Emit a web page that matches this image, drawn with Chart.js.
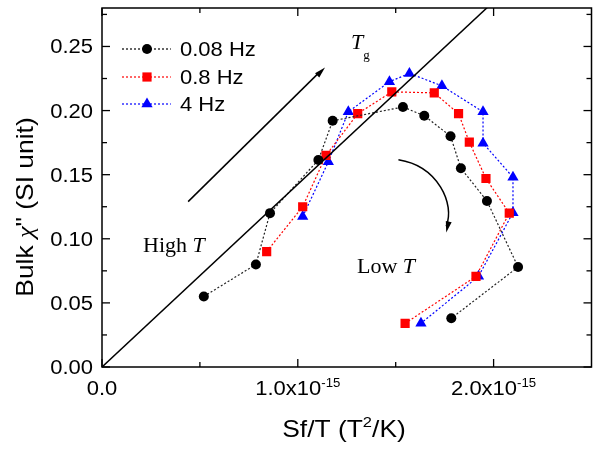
<!DOCTYPE html>
<html>
<head>
<meta charset="utf-8">
<script src="https://cdn.jsdelivr.net/npm/chart.js@4/dist/chart.umd.min.js"></script>
<style>
  body { margin: 0; background: #fff; }
  #wrap { width: 598px; height: 456px; }
</style>
</head>
<body>
<div id="wrap"><canvas id="chart"></canvas></div>
<script>
// Sf/T values are in units of 1e-15 T^2/K
const seriesNames = ["0.08 Hz", "0.8 Hz", "4 Hz"];

const sfT_008 = [0.520, 0.786, 0.858, 1.105, 1.178, 1.537, 1.646, 1.780, 1.833, 1.966, 2.125, 1.784];
const chi_008 = [0.055, 0.080, 0.120, 0.1615, 0.192, 0.2028, 0.196, 0.180, 0.155, 0.1295, 0.078, 0.038];

const sfT_08 = [0.841, 1.025, 1.144, 1.306, 1.480, 1.697, 1.821, 1.876, 1.961, 2.080, 1.910, 1.548];
const chi_08 = [0.090, 0.125, 0.165, 0.1976, 0.2146, 0.2138, 0.1976, 0.1754, 0.147, 0.120, 0.0707, 0.034];

const sfT_4 = [1.025, 1.156, 1.258, 1.468, 1.570, 1.736, 1.946, 1.946, 2.099, 2.099, 1.923, 1.629];
const chi_4 = [0.1173, 0.160, 0.199, 0.2225, 0.229, 0.2193, 0.199, 0.1746, 0.1479, 0.1204, 0.0707, 0.0341];

// straight reference line through the origin
const refLineX = [0, 2.0];
const refLineY = [0, 0.285];

const xTicks = [0, 1, 2];
const xTickLabels = ["0.0", "1.0x10", "2.0x10"];
const xMinor = [0.5, 1.5];
const yTicks = [0, 0.05, 0.10, 0.15, 0.20, 0.25];
const yTickLabels = ["0.00", "0.05", "0.10", "0.15", "0.20", "0.25"];
const yMinor = [0.025, 0.075, 0.125, 0.175, 0.225, 0.275];

function pts(xs, ys) {
  return xs.map((v, i) => ({ x: v, y: ys[i] }));
}

const SANS = '"Liberation Sans", Arial, sans-serif';
const SERIF = '"Liberation Serif", "Times New Roman", serif';
const SX = 1.1;

// draws runs of text with a horizontal stretch, like the original figure
function drawRuns(ctx, runs, x, y, align, sx) {
  sx = sx || 1;
  let w = 0;
  runs.forEach(r => {
    ctx.font = r.font;
    r.w = ctx.measureText(r.t).width;
    w += r.w;
  });
  ctx.save();
  ctx.translate(x, y);
  ctx.scale(sx, 1);
  let cx = align === "center" ? -w / 2 : align === "right" ? -w : 0;
  ctx.textAlign = "left";
  ctx.textBaseline = "alphabetic";
  runs.forEach(r => {
    ctx.font = r.font;
    ctx.fillText(r.t, cx, r.dy || 0);
    cx += r.w;
  });
  ctx.restore();
}

function arrowHead(ctx, x0, y0, x1, y1, len, half) {
  const a = Math.atan2(y1 - y0, x1 - x0);
  ctx.beginPath();
  ctx.moveTo(x1, y1);
  ctx.lineTo(x1 - len * Math.cos(a) + half * Math.sin(a), y1 - len * Math.sin(a) - half * Math.cos(a));
  ctx.lineTo(x1 - len * Math.cos(a) - half * Math.sin(a), y1 - len * Math.sin(a) + half * Math.cos(a));
  ctx.closePath();
  ctx.fill();
}

function marker(ctx, style, x, y, color) {
  ctx.fillStyle = color;
  ctx.beginPath();
  if (style === "circle") {
    ctx.arc(x, y, 5, 0, Math.PI * 2);
  } else if (style === "rect") {
    ctx.rect(x - 4.6, y - 4.6, 9.2, 9.2);
  } else {
    const r = 6.5;
    ctx.moveTo(x, y - r);
    ctx.lineTo(x + r * 0.866, y + r * 0.5);
    ctx.lineTo(x - r * 0.866, y + r * 0.5);
    ctx.closePath();
  }
  ctx.fill();
}

const decorPlugin = {
  id: "decor",
  afterDraw(chart) {
    const ctx = chart.ctx;
    const a = chart.chartArea;
    const xs = chart.scales.x;
    const ys = chart.scales.y;
    ctx.save();
    ctx.strokeStyle = "#000";
    ctx.fillStyle = "#000";
    ctx.lineWidth = 1.5;
    ctx.strokeRect(a.left, a.top, a.right - a.left, a.bottom - a.top);

    function seg(x0, y0, x1, y1) {
      ctx.beginPath();
      ctx.moveTo(x0, y0);
      ctx.lineTo(x1, y1);
      ctx.stroke();
    }

    // inward ticks on all four sides
    ctx.lineWidth = 1.3;
    yTicks.forEach(v => {
      const p = ys.getPixelForValue(v);
      seg(a.left, p, a.left + 8, p);
      seg(a.right, p, a.right - 8, p);
    });
    yMinor.forEach(v => {
      const p = ys.getPixelForValue(v);
      seg(a.left, p, a.left + 5, p);
      seg(a.right, p, a.right - 5, p);
    });
    xTicks.forEach(v => {
      const p = xs.getPixelForValue(v);
      seg(p, a.bottom, p, a.bottom - 8);
      seg(p, a.top, p, a.top + 8);
    });
    xMinor.forEach(v => {
      const p = xs.getPixelForValue(v);
      seg(p, a.bottom, p, a.bottom - 5);
      seg(p, a.top, p, a.top + 5);
    });

    // tick labels
    ctx.fillStyle = "#000";
    yTicks.forEach((v, i) => {
      drawRuns(ctx, [{ t: yTickLabels[i], font: "20px " + SANS }],
        a.left - 9, ys.getPixelForValue(v) + 7, "right", SX);
    });
    xTicks.forEach((v, i) => {
      const runs = [{ t: xTickLabels[i], font: "20px " + SANS }];
      if (v !== 0) runs.push({ t: "-15", font: "12px " + SANS, dy: -8 });
      drawRuns(ctx, runs, xs.getPixelForValue(v), a.bottom + 28, "center", SX);
    });

    // axis titles
    drawRuns(ctx, [
      { t: "Sf/T (T", font: "24px " + SANS },
      { t: "2", font: "15px " + SANS, dy: -10 },
      { t: "/K)", font: "24px " + SANS }
    ], 344, 437, "center", SX);

    ctx.save();
    ctx.translate(33, 207);
    ctx.rotate(-Math.PI / 2);
    drawRuns(ctx, [
      { t: "Bulk ", font: "24px " + SANS },
      { t: "\u03c7", font: "italic 24px " + SERIF },
      { t: "\" (SI unit)", font: "24px " + SANS }
    ], 0, 0, "center", SX);
    ctx.restore();

    // legend
    const legendStyles = ["circle", "rect", "triangle"];
    const legendColors = ["#000", "#ff0000", "#0000ff"];
    const rowsY = [49, 77, 104];
    seriesNames.forEach((name, i) => {
      ctx.strokeStyle = legendColors[i];
      ctx.lineWidth = 1.2;
      ctx.setLineDash([2, 2]);
      seg(122, rowsY[i], 171, rowsY[i]);
      ctx.setLineDash([]);
      marker(ctx, legendStyles[i], 147, rowsY[i], legendColors[i]);
      ctx.fillStyle = "#000";
      drawRuns(ctx, [{ t: name, font: "20px " + SANS }], 180, rowsY[i] + 7, "left", SX);
    });

    // straight arrow
    ctx.strokeStyle = "#000";
    ctx.fillStyle = "#000";
    ctx.lineWidth = 1.5;
    const s0 = [xs.getPixelForValue(0.44), ys.getPixelForValue(0.129)];
    const s1 = [xs.getPixelForValue(1.139), ys.getPixelForValue(0.2335)];
    seg(s0[0], s0[1], s1[0] - 6, s1[1] + 5);
    arrowHead(ctx, s0[0], s0[1], s1[0], s1[1], 11, 3);

    // curved arrow
    const c0 = [xs.getPixelForValue(1.514), ys.getPixelForValue(0.1617)];
    const c1 = [xs.getPixelForValue(1.717), ys.getPixelForValue(0.1568)];
    const c2 = [xs.getPixelForValue(1.804), ys.getPixelForValue(0.127)];
    const c3 = [xs.getPixelForValue(1.758), ys.getPixelForValue(0.105)];
    ctx.beginPath();
    ctx.moveTo(c0[0], c0[1]);
    ctx.bezierCurveTo(c1[0], c1[1], c2[0], c2[1], c3[0], c3[1] - 6);
    ctx.stroke();
    arrowHead(ctx, c2[0], c2[1] - 10, c3[0], c3[1], 11, 3);

    // annotations
    drawRuns(ctx, [
      { t: "High ", font: "22px " + SERIF },
      { t: "T", font: "italic 22px " + SERIF }
    ], 143, 252, "left", 1);
    drawRuns(ctx, [
      { t: "Low ", font: "22px " + SERIF },
      { t: "T", font: "italic 22px " + SERIF }
    ], 357, 273, "left", 1);
    drawRuns(ctx, [
      { t: "T", font: "italic 22px " + SERIF },
      { t: "g", font: "13px " + SERIF, dy: 10 }
    ], 351, 49, "left", 1);

    ctx.restore();
  }
};

new Chart(document.getElementById("chart"), {
  type: "scatter",
  data: {
    datasets: [
      {
        label: "line",
        data: pts(refLineX, refLineY),
        showLine: true,
        borderColor: "#000",
        borderWidth: 1.5,
        pointRadius: 0,
      },
      {
        label: seriesNames[0],
        data: pts(sfT_008, chi_008),
        showLine: true,
        borderColor: "#222",
        borderWidth: 1.2,
        borderDash: [2, 2],
        pointStyle: "circle",
        pointRadius: 5,
        pointBackgroundColor: "#000",
        pointBorderColor: "#000",
        pointBorderWidth: 0,
      },
      {
        label: seriesNames[1],
        data: pts(sfT_08, chi_08),
        showLine: true,
        borderColor: "#ff0000",
        borderWidth: 1.2,
        borderDash: [2, 2],
        pointStyle: "rect",
        pointRadius: 6.5,
        pointBackgroundColor: "#ff0000",
        pointBorderColor: "#ff0000",
        pointBorderWidth: 0,
      },
      {
        label: seriesNames[2],
        data: pts(sfT_4, chi_4),
        showLine: true,
        borderColor: "#0000ff",
        borderWidth: 1.2,
        borderDash: [2, 2],
        pointStyle: "triangle",
        pointRadius: 6.5,
        pointBackgroundColor: "#0000ff",
        pointBorderColor: "#0000ff",
        pointBorderWidth: 0,
      },
    ],
  },
  options: {
    responsive: true,
    maintainAspectRatio: false,
    animation: false,
    layout: { padding: { left: 102, top: 8, right: 6, bottom: 89 } },
    plugins: {
      legend: { display: false },
      tooltip: { enabled: false },
    },
    scales: {
      x: { type: "linear", min: 0, max: 2.5, display: false },
      y: { type: "linear", min: 0, max: 0.28, display: false },
    },
  },
  plugins: [decorPlugin],
});
</script>
</body>
</html>
